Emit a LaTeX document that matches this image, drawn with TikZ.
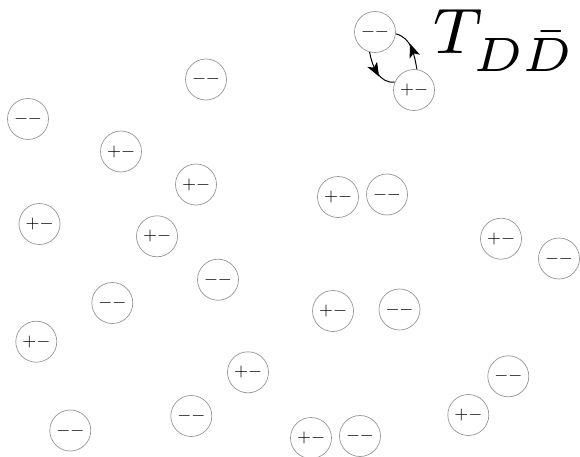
\documentclass[tikz,border=0pt]{standalone}
\usetikzlibrary{decorations.markings}
\definecolor{ringgray}{RGB}{150,150,150}
\newcommand{\ionpm}{\scalebox{1.8}{$+-$}}
\newcommand{\ionmm}{\scalebox{1.8}{$--$}}
\begin{document}
\begin{tikzpicture}[x=1pt,y=1pt,
  ion/.style={circle,draw=ringgray,line width=0.7pt,minimum size=41pt,inner sep=0pt},
  flow/.style={line width=1pt,
    postaction={decorate,decoration={markings,
      mark=at position 0.45 with {\fill (7pt,0pt) -- (-7pt,5.5pt) -- (-3.5pt,0pt) -- (-7pt,-5.5pt) -- cycle;}}}}]
\useasboundingbox (0,0) rectangle (580,456);
\node[ion] (A) at (375,424) {\ionmm};
\node[ion] (B) at (414,366) {\ionpm};
\node[ion] (n3) at (206,376.5) {\ionmm};
\node[ion] (n4) at (28,337) {\ionmm};
\node[ion] (n5) at (121,304.5) {\ionpm};
\node[ion] (n6) at (196,271.5) {\ionpm};
\node[ion] (n7) at (338,259) {\ionpm};
\node[ion] (n8) at (387,261.5) {\ionmm};
\node[ion] (n9) at (39.5,232) {\ionpm};
\node[ion] (n10) at (157,219.7) {\ionpm};
\node[ion] (n11) at (501,217.3) {\ionpm};
\node[ion] (n12) at (559,197.5) {\ionmm};
\node[ion] (n13) at (218,176.3) {\ionmm};
\node[ion] (n14) at (112.3,153) {\ionmm};
\node[ion] (n15) at (333,145) {\ionpm};
\node[ion] (n16) at (399.5,146.5) {\ionmm};
\node[ion] (n17) at (36.3,114.3) {\ionpm};
\node[ion] (n18) at (248,83.7) {\ionpm};
\node[ion] (n19) at (508.3,79.7) {\ionmm};
\node[ion] (n20) at (191.3,40) {\ionmm};
\node[ion] (n21) at (468.3,41) {\ionpm};
\node[ion] (n22) at (70.3,25.5) {\ionmm};
\node[ion] (n23) at (311,18) {\ionpm};
\node[ion] (n24) at (360,20) {\ionmm};
\draw[flow] (A.255) to[out=280,in=185] (B.158);
\draw[flow] (B.82) to[out=100,in=-15] (A.355);
\node[anchor=base west,inner sep=0pt] (T) at (433,402.7)
  {\scalebox{8.05}{\footnotesize$T_{D\bar D}$}};
\end{tikzpicture}
\end{document}
